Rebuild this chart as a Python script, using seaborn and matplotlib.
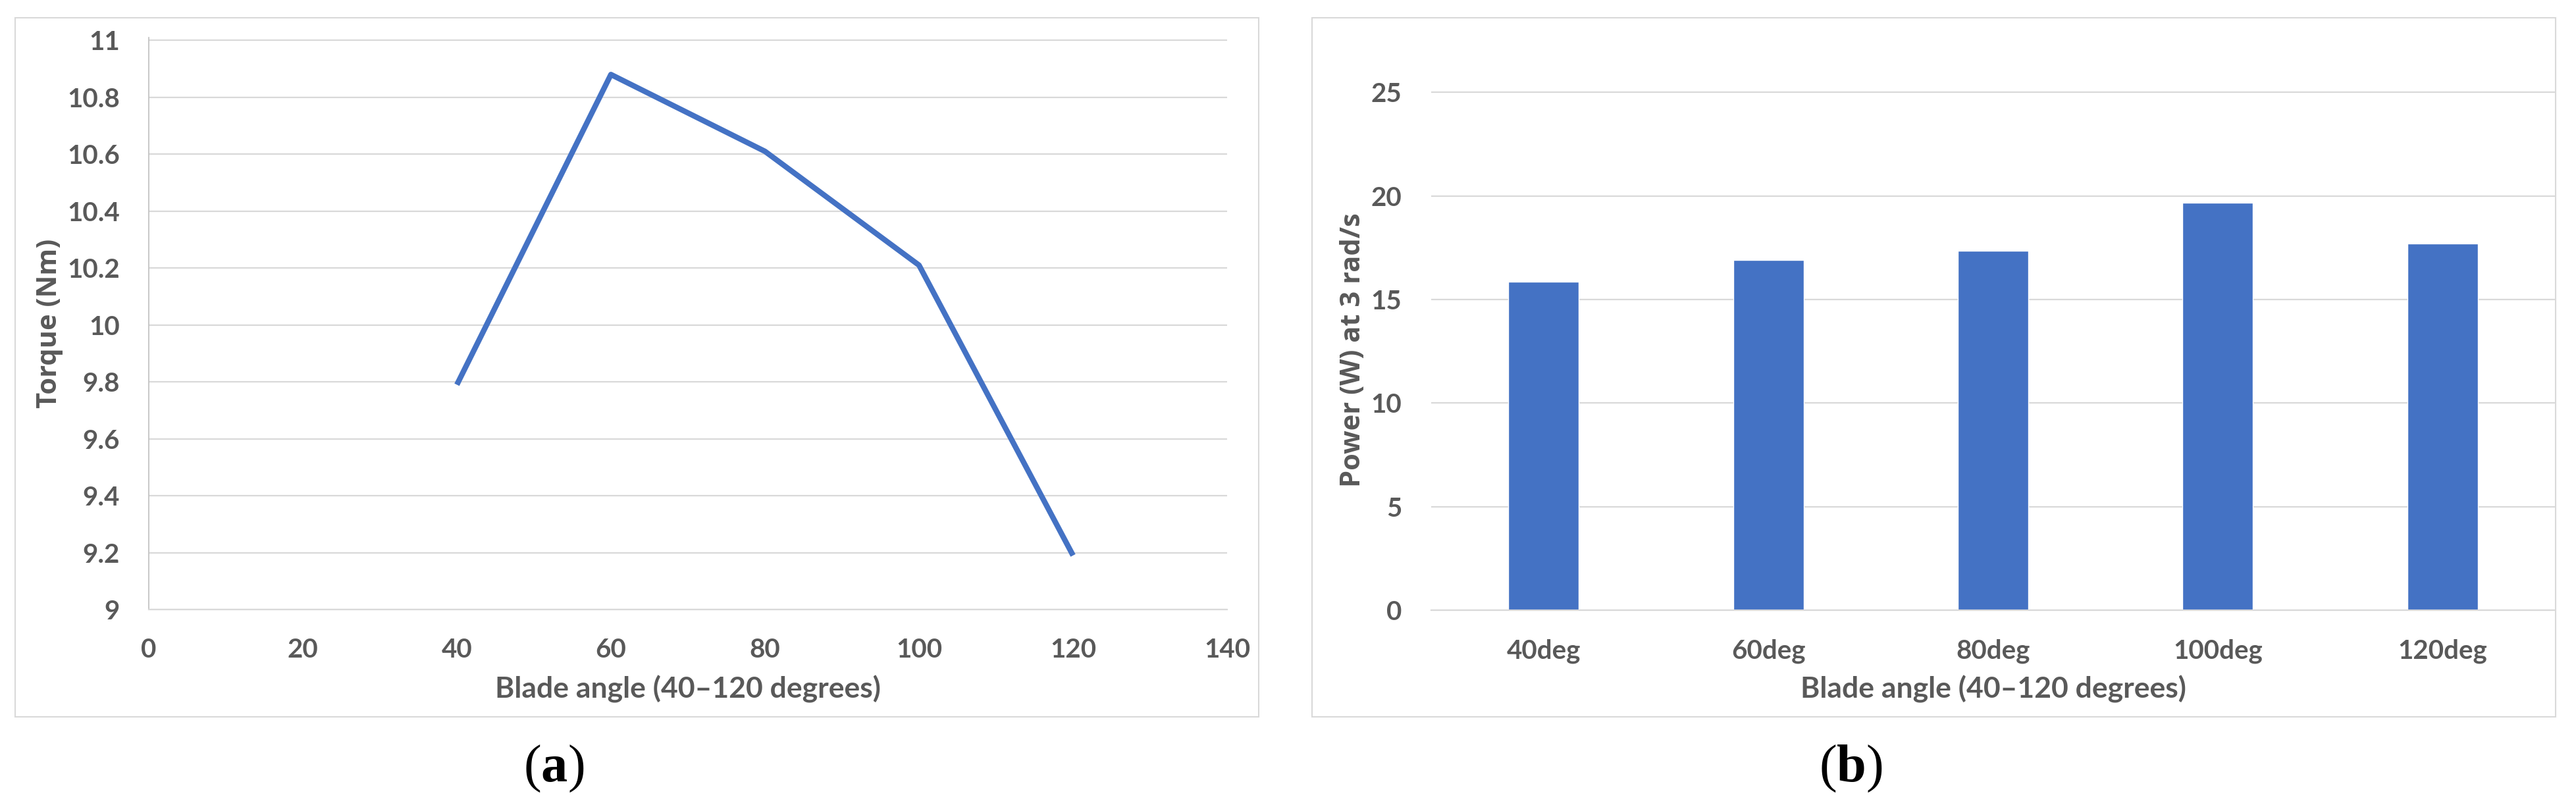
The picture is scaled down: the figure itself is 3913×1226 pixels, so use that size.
import numpy as np
import matplotlib
matplotlib.use('Agg')
import matplotlib.pyplot as plt
import seaborn as sns
from matplotlib.patches import Rectangle

# データ (a) トルク vs 羽根角度
angles = [40, 60, 80, 100, 120]
torque = [9.79, 10.88, 10.61, 10.21, 9.19]

# データ (b) 3 rad/s での出力
power_labels = ['40deg', '60deg', '80deg', '100deg', '120deg']
power = [15.87, 16.89, 17.34, 19.67, 17.71]

x_ticks = [0, 20, 40, 60, 80, 100, 120, 140]
torque_ticks = [9, 9.2, 9.4, 9.6, 9.8, 10, 10.2, 10.4, 10.6, 10.8, 11]
power_ticks = [0, 5, 10, 15, 20, 25]

sns.set_style('white')
plt.rcParams['font.family'] = ['Lato', 'DejaVu Sans']
plt.rcParams['mathtext.fontset'] = 'custom'
plt.rcParams['mathtext.rm'] = 'Liberation Serif'
plt.rcParams['mathtext.bf'] = 'Liberation Serif:bold'

BLUE = '#4472C4'
TXT = '#595959'
GRID = '#d9d9d9'
W, H = 3913, 1226

fig = plt.figure(figsize=(W / 100, H / 100), dpi=100)

def px_axes(x0, x1, ytop, ybot):
    return [x0 / W, 1 - ybot / H, (x1 - x0) / W, (ybot - ytop) / H]

# 枠線
for bx0, bx1 in [(23, 1912), (1993, 3882)]:
    fig.patches.append(Rectangle((bx0 / W, 1 - 1089 / H), (bx1 - bx0) / W, (1089 - 27) / H,
                                 transform=fig.transFigure, fill=False,
                                 edgecolor=GRID, linewidth=1.5, zorder=0))

# ---------------- (a) ----------------
ax1 = fig.add_axes(px_axes(226, 1864, 57, 926))
sns.lineplot(x=angles, y=torque, ax=ax1, color=BLUE, linewidth=6,
             solid_joinstyle='round', solid_capstyle='butt')
ax1.set_xlim(0, 140)
ax1.set_ylim(9, 11.01)
ax1.set_xticks(x_ticks)
ax1.set_yticks(torque_ticks)
ax1.set_yticklabels([f'{v:g}' for v in torque_ticks])
ax1.yaxis.grid(True, color=GRID, linewidth=1.6)
ax1.xaxis.grid(False)
for s in ['top', 'right']:
    ax1.spines[s].set_visible(False)
ax1.spines['left'].set_color('#bfbfbf')
ax1.spines['left'].set_linewidth(1.2)
ax1.spines['bottom'].set_color(GRID)
ax1.spines['bottom'].set_linewidth(1.6)
ax1.tick_params(axis='x', length=0, pad=31, labelsize=29, labelcolor=TXT)
ax1.tick_params(axis='y', length=10.8, width=1.2, color='#cfcfcf', pad=21,
                labelsize=29, labelcolor=TXT)
ax1.set_xlabel('Blade angle (40–120 degrees)', fontsize=32, color=TXT, fontweight='bold')
ax1.set_ylabel('Torque (Nm)', fontsize=30, color=TXT, fontweight='bold',
               family=['Open Sans', 'DejaVu Sans'])
ax1.xaxis.label.set_va('baseline')
ax1.xaxis.set_label_coords(0.5, (926 - 1060) / 865)
ax1.yaxis.label.set_va('center')
ax1.yaxis.set_label_coords((76 - 226) / 1638, 0.5)
for t in ax1.get_xticklabels() + ax1.get_yticklabels():
    t.set_fontweight('bold')

# ---------------- (b) ----------------
ax2 = fig.add_axes(px_axes(2174, 3881, 137, 927))
sns.barplot(x=power_labels, y=power, ax=ax2, color=BLUE, saturation=1, width=0.313)
ax2.set_xlim(-0.5, 4.5)
ax2.set_ylim(0, 25.1)
ax2.set_yticks(power_ticks)
ax2.yaxis.grid(True, color=GRID, linewidth=1.6)
ax2.set_axisbelow(True)
for s in ['top', 'right', 'left']:
    ax2.spines[s].set_visible(False)
ax2.spines['bottom'].set_color(GRID)
ax2.spines['bottom'].set_linewidth(1.6)
ax2.tick_params(axis='x', length=0, pad=31, labelsize=29, labelcolor=TXT)
ax2.tick_params(axis='y', length=0, pad=32, labelsize=29, labelcolor=TXT)
ax2.set_xlabel('Blade angle (40–120 degrees)', fontsize=32, color=TXT, fontweight='bold')
ax2.set_ylabel('Power (W) at 3 rad/s', fontsize=30, color=TXT, fontweight='bold',
               family=['Open Sans', 'DejaVu Sans'])
ax2.xaxis.label.set_va('baseline')
ax2.xaxis.set_label_coords(0.5, (927 - 1060) / 790)
ax2.yaxis.label.set_va('center')
ax2.yaxis.set_label_coords((2055 - 2174) / 1707, 0.5)
for t in ax2.get_xticklabels() + ax2.get_yticklabels():
    t.set_fontweight('bold')

# キャプション
fig.text(841 / W, 1 - 1168 / H, r'($\mathbf{a}$)', ha='center', va='center',
         fontsize=58, family=['Liberation Serif'], color='black')
fig.text(2811 / W, 1 - 1168 / H, r'($\mathbf{b}$)', ha='center', va='center',
         fontsize=58, family=['Liberation Serif'], color='black')

fig.savefig('out.png', dpi=100, facecolor='white')
